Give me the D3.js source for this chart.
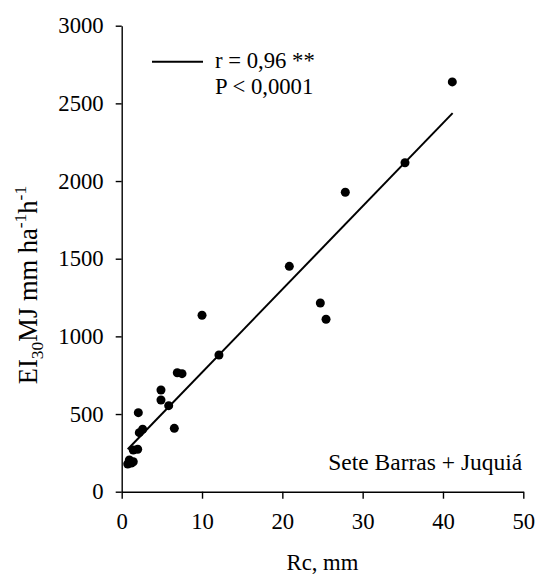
<!DOCTYPE html>
<html><head><meta charset="utf-8">
<script src="https://cdn.jsdelivr.net/npm/d3@7"></script>
<style>
body{margin:0;background:#fff;}
text{font-family:"Liberation Serif","Times New Roman",serif;fill:#000;}
</style></head>
<body>
<svg id="c" width="537" height="574"></svg>
<script>
const rcValues = [0.75, 0.95, 1.44, 1.2, 1.44, 1.99, 2.19, 2.61, 2.07, 4.89, 4.89, 5.85, 6.55, 6.92, 7.51, 10.0, 12.11, 20.87, 24.73, 25.44, 27.84, 35.27, 41.16];
const ei30Values = [178, 204, 193, 185, 268, 273, 380, 402, 509, 590, 655, 554, 408, 766, 760, 1136, 880, 1451, 1215, 1110, 1928, 2118, 2638];
const fitX = [0.75, 41.2];
const fitY = [273, 2437];
const xTicks = [0, 10, 20, 30, 40, 50];
const yTicks = [0, 500, 1000, 1500, 2000, 2500, 3000];
const legendLines = ["r = 0,96 **", "P < 0,0001"];
const siteLabel = "Sete Barras + Juquiá";

const svg = d3.select("#c");
const m = {l:121.7, r:13.7, t:25.7, b:82.3};
const W = 537, H = 574;
const x = d3.scaleLinear().domain([0,50]).range([m.l, W-m.r]);
const y = d3.scaleLinear().domain([0,3000]).range([H-m.b, m.t]);

const fs = 22.7;
const xa = svg.append("g").attr("transform",`translate(0,${y(0)})`)
  .call(d3.axisBottom(x).tickValues(xTicks).tickFormat(d3.format("d")).tickSize(7).tickSizeOuter(0).tickPadding(14));
const ya = svg.append("g").attr("transform",`translate(${x(0)},0)`)
  .call(d3.axisLeft(y).tickValues(yTicks).tickFormat(d3.format("d")).tickSize(6).tickSizeOuter(0).tickPadding(12));
[xa,ya].forEach(a=>{
  a.attr("font-family",null);
  a.selectAll("path,line").attr("stroke","#000").attr("stroke-width",1.4);
  a.selectAll("text").attr("font-size",fs).attr("fill","#000");
});

// fit line
svg.append("line")
  .attr("x1",x(fitX[0])).attr("y1",y(fitY[0]))
  .attr("x2",x(fitX[1])).attr("y2",y(fitY[1]))
  .attr("stroke","#000").attr("stroke-width",2);

// points
svg.append("g").selectAll("circle").data(rcValues.map((v,i)=>[v,ei30Values[i]]))
  .join("circle").attr("cx",d=>x(d[0])).attr("cy",d=>y(d[1])).attr("r",4.5).attr("fill","#000");

// legend
svg.append("line").attr("x1",152).attr("x2",203).attr("y1",61.7).attr("y2",61.7)
  .attr("stroke","#000").attr("stroke-width",2);
legendLines.forEach((t,i)=>{
  svg.append("text").attr("x",215).attr("y",68+i*25.5).attr("font-size",fs).text(t);
});

svg.append("text").attr("x",x(50)-1).attr("y",470).attr("text-anchor","end")
  .attr("font-size",23.5).text(siteLabel);

// x label
svg.append("text").attr("x",(x(0)+x(50))/2).attr("y",570).attr("text-anchor","middle")
  .attr("font-size",fs).text("Rc, mm");

// y label
const yl = svg.append("text").attr("transform","translate(37,285) rotate(-90)")
  .attr("text-anchor","middle").attr("font-size",26.5);
yl.append("tspan").text("EI");
yl.append("tspan").attr("font-size",17.5).attr("dy",6).text("30");
yl.append("tspan").attr("dy",-6).text("MJ mm ha");
yl.append("tspan").attr("font-size",17.5).attr("dy",-11).text("-1");
yl.append("tspan").attr("dy",11).text("h");
yl.append("tspan").attr("font-size",17.5).attr("dy",-11).text("-1");
</script>
</body></html>
